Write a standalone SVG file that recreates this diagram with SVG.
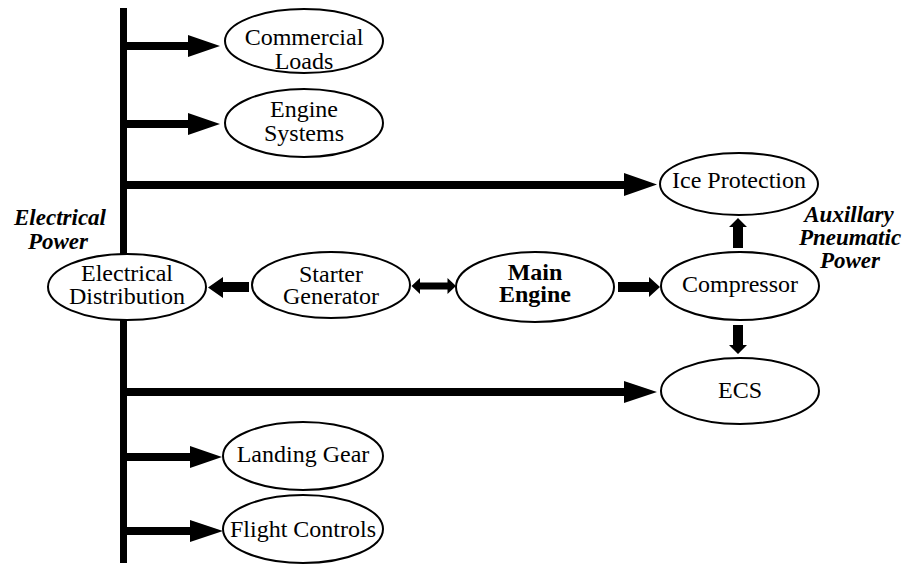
<svg xmlns="http://www.w3.org/2000/svg" width="906" height="565" viewBox="0 0 906 565" font-family="'Liberation Serif', 'DejaVu Serif', 'Noto Serif', serif">
  <style>
    .node ellipse { fill: #ffffff; stroke: #000000; stroke-width: 2; }
    .node text { font-size: 24px; fill: #000000; text-anchor: middle; }
    .node text.bold { font-weight: bold; }
    .label { font-size: 23px; font-weight: bold; font-style: italic; fill: #000000; text-anchor: middle; }
    .conn path, .conn rect { fill: #000000; stroke: none; }
  </style>

  <!-- connectors: power bus and feed arrows -->
  <g id="connectors" class="conn">
    <!-- vertical electrical bus -->
    <rect x="120" y="8" width="7" height="555"/>
    <!-- bus feeds (shaft + head) -->
    <path d="M127,42 H188 V35 L220,46 L188,57 V50 H127 Z"/>
    <path d="M127,120 H188 V113 L220,124 L188,135 V128 H127 Z"/>
    <path d="M127,181 H624 V173 L657,184.5 L624,196 V189 H127 Z"/>
    <path d="M127,388 H624 V381 L657,392 L624,403 V396 H127 Z"/>
    <path d="M127,453 H190 V446 L222,457 L190,468 V461 H127 Z"/>
    <path d="M127,527 H190 V520 L223,531 L190,542 V535 H127 Z"/>
    <!-- starter generator to electrical distribution -->
    <path d="M249,282 H223 V277 L208,287.5 L223,298 V292 H249 Z"/>
    <!-- starter generator <-> main engine -->
    <path d="M411.5,286 L420,278 V282.5 H447.5 V278 L456,286 L447.5,294 V289.5 H420 V294 Z"/>
    <!-- main engine to compressor -->
    <path d="M618,282 H649 V277 L660,287 L649,297 V292 H618 Z"/>
    <!-- compressor to ice protection -->
    <path d="M733,248 V227 H729 L738,218 L747,227 H743 V248 Z"/>
    <!-- compressor to ECS -->
    <path d="M733,325 V345 H729 L738,354 L747,345 H743 V325 Z"/>
  </g>

  <g id="commercial-loads" class="node">
    <ellipse cx="304" cy="41" rx="79" ry="32"/>
    <text x="304" y="45" style="font-family: 'Liberation Serif', 'DejaVu Serif', serif">Commercial</text>
    <text x="304" y="69" style="font-family: 'Liberation Serif', 'DejaVu Serif', serif">Loads</text>
  </g>

  <g id="engine-systems" class="node">
    <ellipse cx="304" cy="123" rx="79" ry="34"/>
    <text x="304" y="117" style="font-family: 'Liberation Serif', 'DejaVu Serif', serif">Engine</text>
    <text x="304" y="141" style="font-family: 'Liberation Serif', 'DejaVu Serif', serif">Systems</text>
  </g>

  <g id="ice-protection" class="node">
    <ellipse cx="739" cy="184" rx="79" ry="31"/>
    <text x="739" y="188" style="font-family: 'Liberation Serif', 'DejaVu Serif', serif">Ice Protection</text>
  </g>

  <g id="electrical-distribution" class="node">
    <ellipse cx="127" cy="287" rx="79" ry="33"/>
    <text x="127" y="281" style="font-family: 'Liberation Serif', 'DejaVu Serif', serif">Electrical</text>
    <text x="127" y="304" style="font-family: 'Liberation Serif', 'DejaVu Serif', serif">Distribution</text>
  </g>

  <g id="starter-generator" class="node">
    <ellipse cx="331" cy="285" rx="79" ry="33"/>
    <text x="331" y="282" style="font-family: 'Liberation Serif', 'DejaVu Serif', serif">Starter</text>
    <text x="331" y="304" style="font-family: 'Liberation Serif', 'DejaVu Serif', serif">Generator</text>
  </g>

  <g id="main-engine" class="node">
    <ellipse cx="535" cy="287" rx="79" ry="35"/>
    <text class="bold" x="535" y="280" style="font-family: 'Liberation Serif', 'DejaVu Serif', serif">Main</text>
    <text class="bold" x="535" y="302" style="font-family: 'Liberation Serif', 'DejaVu Serif', serif">Engine</text>
  </g>

  <g id="compressor" class="node">
    <ellipse cx="740" cy="286" rx="79" ry="34"/>
    <text x="740" y="292" style="font-family: 'Liberation Serif', 'DejaVu Serif', serif">Compressor</text>
  </g>

  <g id="ecs" class="node">
    <ellipse cx="740" cy="391" rx="79" ry="33"/>
    <text x="740" y="398" style="font-family: 'Liberation Serif', 'DejaVu Serif', serif">ECS</text>
  </g>

  <g id="landing-gear" class="node">
    <ellipse cx="303" cy="456" rx="80" ry="34"/>
    <text x="303" y="462" style="font-family: 'Liberation Serif', 'DejaVu Serif', serif">Landing Gear</text>
  </g>

  <g id="flight-controls" class="node">
    <ellipse cx="303" cy="529" rx="80" ry="34"/>
    <text x="303" y="537" style="font-family: 'Liberation Serif', 'DejaVu Serif', serif">Flight Controls</text>
  </g>

  <!-- section labels -->
  <g id="electrical-power-label">
    <text class="label" x="60" y="225" style="font-family: 'Liberation Serif', 'DejaVu Serif', serif">Electrical</text>
    <text class="label" x="58" y="249" style="font-family: 'Liberation Serif', 'DejaVu Serif', serif">Power</text>
  </g>
  <g id="pneumatic-power-label">
    <text class="label" x="849" y="222" style="font-family: 'Liberation Serif', 'DejaVu Serif', serif">Auxillary</text>
    <text class="label" x="850" y="245" style="font-family: 'Liberation Serif', 'DejaVu Serif', serif">Pneumatic</text>
    <text class="label" x="850" y="268" style="font-family: 'Liberation Serif', 'DejaVu Serif', serif">Power</text>
  </g>
</svg>
